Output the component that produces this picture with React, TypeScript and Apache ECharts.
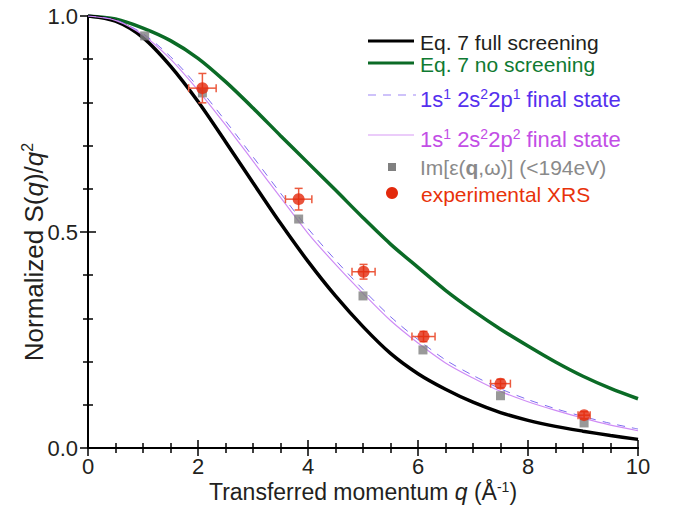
import React, { useEffect, useRef } from 'react';
import * as echarts from 'echarts';

// momentum grid for the model curves (Å^-1)
const qGrid = [0, 0.5, 1, 1.5, 2, 2.5, 3, 3.5, 4, 4.5, 5, 5.5, 6, 6.5, 7, 7.5, 8, 8.5, 9, 9.5, 10];
// Eq. 7 full screening
const fullScreening = [1.0, 0.988, 0.95, 0.884, 0.802, 0.709, 0.614, 0.52, 0.432, 0.352, 0.281, 0.219, 0.172, 0.136, 0.106, 0.082, 0.064, 0.05, 0.039, 0.029, 0.02];
// Eq. 7 no screening
const noScreening = [1.0, 0.993, 0.972, 0.943, 0.902, 0.848, 0.787, 0.723, 0.66, 0.597, 0.533, 0.472, 0.418, 0.365, 0.318, 0.275, 0.236, 0.199, 0.166, 0.138, 0.114];
// 1s1 2s2 2p1 final state (dashed)
const state2p1 = [1.0, 0.991, 0.959, 0.906, 0.836, 0.757, 0.674, 0.59, 0.508, 0.435, 0.367, 0.304, 0.251, 0.204, 0.168, 0.137, 0.112, 0.091, 0.073, 0.057, 0.044];
// 1s1 2s2 2p2 final state (solid thin)
const state2p2 = [1.0, 0.99, 0.956, 0.9, 0.828, 0.748, 0.664, 0.58, 0.497, 0.425, 0.358, 0.295, 0.243, 0.197, 0.162, 0.131, 0.107, 0.087, 0.069, 0.053, 0.04];

// Im[eps(q,w)] (<194 eV) squares
const epsQ = [1.03, 2.08, 3.83, 5.0, 6.09, 7.5, 9.02];
const epsS = [0.954, 0.822, 0.53, 0.352, 0.227, 0.121, 0.058];

// experimental XRS with error bars
const xrsQ = [2.08, 3.83, 5.01, 6.1, 7.5, 9.02];
const xrsS = [0.833, 0.576, 0.408, 0.258, 0.149, 0.076];
const xrsQErr = [0.25, 0.24, 0.21, 0.21, 0.18, 0.11];
const xrsSErr = [0.034, 0.025, 0.017, 0.012, 0.01, 0.008];

const xTicks = { min: 0, max: 10, interval: 2 };
const yTicks = { min: 0, max: 1, interval: 0.5 };

const FONT = '"Liberation Sans", Arial, Helvetica, sans-serif';

export default function App() {
  const ref = useRef<HTMLDivElement>(null);

  useEffect(() => {
    const chart = echarts.init(ref.current as HTMLDivElement, null, { renderer: 'svg' });
    const pairs = (ys: number[]) => qGrid.map((q, i) => [q, ys[i]]);

    const axisLine = { show: true, lineStyle: { color: '#000', width: 2 } };
    const tick = { show: true, inside: true, length: 8, lineStyle: { color: '#000', width: 1.5 } };
    const xMinor = { show: true, splitNumber: 4, length: 5, lineStyle: { color: '#000', width: 1.5 } };
    const yMinor = { show: true, splitNumber: 5, length: 5, lineStyle: { color: '#000', width: 1.5 } };

    const txt = (s: string, x: number, y: number, fill: string, size = 21, rich?: any) => ({
      type: 'text',
      x,
      y,
      style: { text: s, fill, fontSize: size, fontFamily: FONT, verticalAlign: 'middle', align: 'left', rich },
    });

    const supRich = (fill: string) => ({
      n: { fontSize: 22, fill, color: fill, fontFamily: FONT },
      s: { fontSize: 14, fill, color: fill, fontFamily: FONT, padding: [0, 0, 11, 0] },
    });

    const option: any = {
      animation: false,
      backgroundColor: '#ffffff',
      grid: { left: 88, right: 39, top: 16, bottom: 60, containLabel: false, outerBoundsMode: 'none' },
      xAxis: [
        {
          type: 'value',
          ...xTicks,
          position: 'bottom',
          axisLine,
          axisTick: tick,
          minorTick: xMinor,
          splitLine: { show: false },
          axisLabel: { fontSize: 22, lineHeight: 18, color: '#231f20', margin: 9, fontFamily: FONT },
          name: 'Transferred momentum {i|q} (Å{s|-1})',
          nameLocation: 'middle',
          nameGap: 32,
          nameMoveOverlap: false,
          nameTextStyle: {
            fontSize: 23,
            color: '#231f20',
            fontFamily: FONT,
            lineHeight: 24,
            rich: {
              i: { fontSize: 23, fontStyle: 'italic', color: '#231f20', fontFamily: FONT },
              s: { fontSize: 14, color: '#231f20', fontFamily: FONT, padding: [0, 0, 10, 0] },
            },
          },
        },
        {
          type: 'value',
          ...xTicks,
          position: 'top',
          axisLine,
          axisTick: tick,
          minorTick: xMinor,
          splitLine: { show: false },
          axisLabel: { show: false },
        },
      ],
      yAxis: [
        {
          type: 'value',
          ...yTicks,
          position: 'left',
          axisLine,
          axisTick: tick,
          minorTick: yMinor,
          splitLine: { show: false },
          axisLabel: {
            fontSize: 22,
            color: '#231f20',
            margin: 10,
            fontFamily: FONT,
            formatter: (v: number) => v.toFixed(1),
          },
          name: 'Normalized S({i|q})/{i|q}{s|2}',
          nameLocation: 'middle',
          nameGap: 40,
          nameMoveOverlap: false,
          nameTextStyle: {
            fontSize: 26,
            color: '#231f20',
            fontFamily: FONT,
            padding: [0, 40, 0, 0],
            rich: {
              i: { fontSize: 26, fontStyle: 'italic', color: '#231f20', fontFamily: FONT },
              s: { fontSize: 16, color: '#231f20', fontFamily: FONT, padding: [0, 0, 13, 0] },
            },
          },
        },
        {
          type: 'value',
          ...yTicks,
          position: 'right',
          axisLine,
          axisTick: tick,
          minorTick: yMinor,
          splitLine: { show: false },
          axisLabel: { show: false },
        },
      ],
      series: [
        {
          name: 'Eq. 7 no screening',
          type: 'line',
          data: pairs(noScreening),
          smooth: 0.3,
          symbol: 'none',
          lineStyle: { color: '#0b6b26', width: 3.5 },
          z: 2,
        },
        {
          name: 'Eq. 7 full screening',
          type: 'line',
          data: pairs(fullScreening),
          smooth: 0.3,
          symbol: 'none',
          lineStyle: { color: '#000000', width: 3.5 },
          z: 2,
        },
        {
          name: '1s1 2s2 2p1 final state',
          type: 'line',
          data: pairs(state2p1),
          smooth: 0.3,
          symbol: 'none',
          lineStyle: { color: '#7f6cf0', width: 1, type: [8, 7] },
          z: 3,
        },
        {
          name: '1s1 2s2 2p2 final state',
          type: 'line',
          data: pairs(state2p2),
          smooth: 0.3,
          symbol: 'none',
          lineStyle: { color: '#cf8cf5', width: 1.2 },
          z: 3,
        },
        {
          name: 'Im[eps(q,w)] (<194eV)',
          type: 'scatter',
          data: epsQ.map((q, i) => [q, epsS[i]]),
          symbol: 'rect',
          symbolSize: 9,
          itemStyle: { color: '#808080' },
          z: 4,
        },
        {
          name: 'XRS error bars',
          type: 'custom',
          data: xrsQ.map((q, i) => [q, xrsS[i], xrsQErr[i], xrsSErr[i]]),
          encode: { x: 0, y: 1 },
          z: 5,
          renderItem: (params: any, api: any) => {
            const x = api.value(0);
            const y = api.value(1);
            const ex = api.value(2);
            const ey = api.value(3);
            const l = api.coord([x - ex, y]);
            const r = api.coord([x + ex, y]);
            const t = api.coord([x, y + ey]);
            const b = api.coord([x, y - ey]);
            const cap = 4;
            const style = { stroke: '#ec5a3e', lineWidth: 1.5 };
            const ln = (x1: number, y1: number, x2: number, y2: number) => ({
              type: 'line',
              shape: { x1, y1, x2, y2 },
              style,
            });
            return {
              type: 'group',
              children: [
                ln(l[0], l[1], r[0], r[1]),
                ln(t[0], t[1], b[0], b[1]),
                ln(l[0], l[1] - cap, l[0], l[1] + cap),
                ln(r[0], r[1] - cap, r[0], r[1] + cap),
                ln(t[0] - cap, t[1], t[0] + cap, t[1]),
                ln(b[0] - cap, b[1], b[0] + cap, b[1]),
              ],
            };
          },
        },
        {
          name: 'experimental XRS',
          type: 'scatter',
          data: xrsQ.map((q, i) => [q, xrsS[i]]),
          symbol: 'circle',
          symbolSize: 12,
          itemStyle: { color: '#e3290c' },
          z: 6,
        },
      ],
      graphic: [
        { type: 'line', shape: { x1: 368, y1: 41, x2: 414, y2: 41 }, style: { stroke: '#000', lineWidth: 3 } },
        txt('Eq. 7 full screening', 420, 42, '#231f20'),
        { type: 'line', shape: { x1: 368, y1: 63, x2: 414, y2: 63 }, style: { stroke: '#0b6b26', lineWidth: 3 } },
        txt('Eq. 7 no screening', 420, 64, '#0f7a32'),
        {
          type: 'line',
          shape: { x1: 368, y1: 95, x2: 416, y2: 95 },
          style: { stroke: '#9d86f5', lineWidth: 1.2, lineDash: [8, 7] },
        },
        txt('{n|1s}{s|1}{n| 2s}{s|2}{n|2p}{s|1}{n| final state}', 420, 99, '#5530ee', 22, supRich('#5530ee')),
        { type: 'line', shape: { x1: 368, y1: 135, x2: 414, y2: 135 }, style: { stroke: '#d89af5', lineWidth: 1.2 } },
        txt('{n|1s}{s|1}{n| 2s}{s|2}{n|2p}{s|2}{n| final state}', 420, 139, '#c24ee6', 22, supRich('#c24ee6')),
        { type: 'rect', shape: { x: 388, y: 163, width: 8, height: 8 }, style: { fill: '#808080' } },
        txt('{n|Im[ε(}{b|q}{n|,ω)] (<194eV)}', 420, 167, '#8a8a8a', 21, {
          n: { fontSize: 21, fill: '#8a8a8a', color: '#8a8a8a', fontFamily: FONT },
          b: { fontSize: 21, fill: '#8a8a8a', color: '#8a8a8a', fontFamily: FONT, fontWeight: 'bold' },
        }),
        { type: 'circle', shape: { cx: 392, cy: 193, r: 6 }, style: { fill: '#e3290c' } },
        txt('experimental XRS', 421, 194, '#e8320a'),
      ],
    };

    chart.setOption(option);
    return () => chart.dispose();
  }, []);

  return (
    <div
      ref={ref}
      style={{ position: 'fixed', left: 0, top: 0, width: 677, height: 508, background: '#fff' }}
    />
  );
}
